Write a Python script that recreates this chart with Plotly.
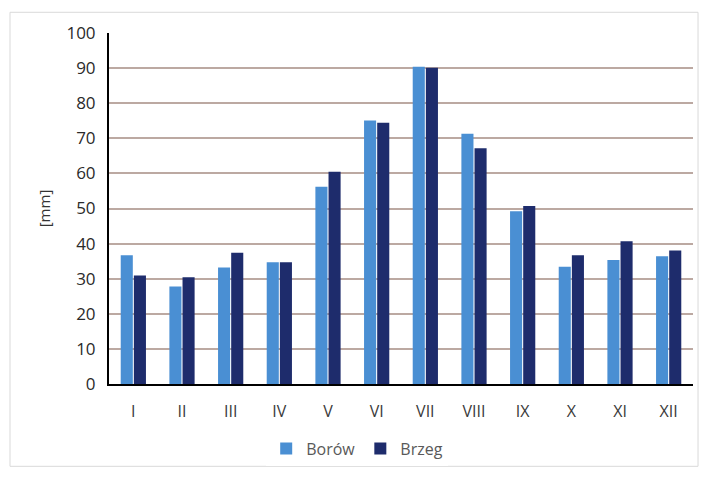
import plotly.graph_objects as go

months = ["I", "II", "III", "IV", "V", "VI", "VII", "VIII", "IX", "X", "XI", "XII"]
borow = [36.7, 27.8, 33.2, 34.7, 56.2, 75.1, 90.4, 71.3, 49.2, 33.4, 35.3, 36.4]
brzeg = [30.9, 30.4, 37.4, 34.7, 60.5, 74.4, 90.1, 67.2, 50.7, 36.7, 40.7, 38.0]
y_ticks = list(range(0, 101, 10))

fig = go.Figure()
fig.add_trace(go.Bar(name="Borów", x=months, y=borow, marker=dict(color="#4A8FD3", line=dict(width=0))))
fig.add_trace(go.Bar(name="Brzeg", x=months, y=brzeg, marker=dict(color="#1E2C6C", line=dict(width=0))))

font_family = "Open Sans, Liberation Sans, sans-serif"
fig.update_layout(
    width=707, height=477,
    margin=dict(l=109, r=14, t=33, b=90),
    paper_bgcolor="white", plot_bgcolor="white",
    barmode="group", bargap=0.46, bargroupgap=0.08,
    font=dict(family=font_family, size=15, color="#333333"),
    showlegend=True,
    legend=dict(orientation="h", x=0.425, xanchor="center", y=-0.184, yanchor="middle",
                font=dict(size=16, color="#595959"), traceorder="normal", itemwidth=30),
    xaxis=dict(showline=True, linecolor="black", linewidth=2, showgrid=False,
               tickfont=dict(size=16, color="#3a3a3a"), ticks="", ticklen=0, ticklabelstandoff=12),
    yaxis=dict(range=[0, 100], tickvals=y_ticks, showline=True, linecolor="black", linewidth=2,
               showgrid=True, gridcolor="#BCA9A2", gridwidth=1.5, zeroline=False,
               tickfont=dict(size=17, color="#2a2a2a"), ticks="", ticklabelstandoff=8,
               title=dict(text="[mm]", font=dict(size=15, color="#333333"), standoff=12)),
    shapes=[dict(type="rect", xref="paper", yref="paper", x0=-0.1695, x1=1.0086, y0=-0.2345, y1=1.059,
                 line=dict(color="#D9D9D9", width=1), layer="below")],
)

fig.write_html("out.html")
